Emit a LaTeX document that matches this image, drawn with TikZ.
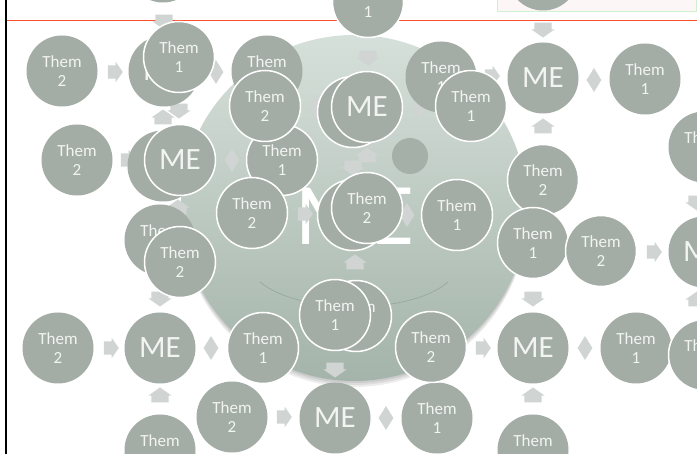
\documentclass[tikz,border=0pt]{standalone}
\usepackage{fontspec}
\setmainfont{Carlito}
\usepackage{xcolor}
\definecolor{nodegray}{RGB}{164,172,166}
\definecolor{arrowgray}{RGB}{208,213,211}
\definecolor{disctop}{RGB}{214,224,218}
\definecolor{discbot}{RGB}{164,180,170}
\definecolor{arcgray}{RGB}{150,166,156}
\definecolor{spotgray}{RGB}{164,176,168}
\definecolor{rulered}{RGB}{250,80,45}
\definecolor{boxgreen}{RGB}{208,240,208}
\definecolor{boxpink}{RGB}{253,246,246}
\definecolor{txtwhite}{RGB}{242,244,242}
\usepackage{tikz}
\usetikzlibrary{shapes.geometric,shapes.arrows}

\tikzset{
  person/.style={circle,fill=nodegray,text=txtwhite,minimum size=71pt,inner sep=0pt,
                 align=center,font=\fontsize{17}{19}\selectfont},
  me/.style={person,font=\fontsize{31}{31}\selectfont},
  ring/.style={draw=white,line width=1.5pt},
  flow/.style={single arrow,fill=arrowgray,inner xsep=0pt,inner ysep=6.5pt,minimum height=15pt,
               single arrow head extend=3.5pt,single arrow tip angle=110},
  vflow/.style={flow,inner xsep=8.5pt,inner ysep=0pt,single arrow head extend=3pt},
  link/.style={diamond,fill=arrowgray,inner sep=0pt,minimum width=15pt,minimum height=24pt}
}

\begin{document}
\begin{tikzpicture}[x=1pt,y=-1pt]
  \useasboundingbox (0,0) rectangle (697,454);
  \clip (0,0) rectangle (697,454);
  \fill[white] (0,0) rectangle (697,454);
  % Slide frame
  \draw[boxgreen,fill=boxpink] (497,-2) rectangle (696,11);
  \draw[rulered,line width=1.3pt] (6,20.5) -- (697,20.5);
  \draw[black,line width=2pt] (6,0) -- (6,454);
  % Big disc behind everything
  \foreach \d in {2,4,6}
    \fill[black,opacity=0.07] (354,{208+\d}) circle (173);
  \shade[top color=disctop,bottom color=discbot] (354,208) circle (173);
  \draw[arcgray,line width=0.6pt] (260,282) .. controls (300,315) and (410,315) .. (448,282);
  \node[circle,fill=spotgray,minimum size=36pt,inner sep=0pt] (spot) at (410,156) {};
  \node[text=white,font=\fontsize{88}{88}\selectfont] (bigme) at (355,216) {ME};
  % Block arrows, right
  \node[flow] (ar1) at (113,72) {};
  \node[flow] (ar2) at (126,160) {};
  \node[flow] (ar3) at (303,214) {};
  \node[flow] (ar4) at (109,348) {};
  \node[flow] (ar5) at (282,417) {};
  \node[flow] (ar6) at (481,348) {};
  \node[flow] (ar7) at (652,252) {};
  \node[flow] (ar8) at (490,76) {};
  % Block arrows, down
  \foreach \x/\y [count=\i] in {164/19,368/55,543/27,179/108,160/296,335/367,533/296,697/200,353/165}
    \node[vflow,shape border rotate=270] (ad\i) at (\x,\y) {};
  % Block arrows, up
  \foreach \x/\y [count=\i] in {163/120,543/129,178/210,160/398,355/265,533/398,697/302,367/158}
    \node[vflow,shape border rotate=90] (au\i) at (\x,\y) {};
  % Diamonds
  \foreach \x/\y [count=\i] in {216/72,316/107,420/107,594/80,232/160,407/215,211/348,386/418,585/348}
    \node[link] (dm\i) at (\x,\y) {};
  % Circles at the back
  \node[person] (topa) at (163,-33) {};
  \node[person] (topb) at (543,-25) {};
  \node[person] (tha) at (62,71) {Them\\2};
  \node[me] (mea) at (164,71) {ME};
  \node[person] (thb) at (267,71) {Them\\1};
  \node[person] (thc) at (441,77) {Them\\1};
  \node[me] (meb) at (543,78) {ME};
  \node[person] (thd) at (645,79) {Them\\1};
  \node[person] (the) at (704,147) {Them\\2};
  \node[person] (thf) at (77,160) {Them\\2};
  \node[person] (backa) at (163,166) {};
  \node[person] (thg) at (160,240) {Them\\2};
  \node[person] (thh) at (58,348) {Them\\2};
  \node[me] (mec) at (160,348) {ME};
  \node[person] (thi) at (160,450) {Them\\2};
  \node[person] (thj) at (232,417) {Them\\2};
  \node[me] (med) at (335,418) {ME};
  \node[person] (thk) at (437,418) {Them\\1};
  \node[me] (mee) at (533,348) {ME};
  \node[person] (thl) at (636,348) {Them\\1};
  \node[person] (thm) at (533,450) {Them\\2};
  \node[me] (mef) at (704,252) {ME};
  % Circles in front, with a white ring
  \node[person,ring] (ra) at (368,2) {Them\\1};
  \node[person,ring] (rb) at (179,57) {Them\\1};
  \node[person,ring] (rc) at (282,160) {Them\\1};
  \node[person,ring] (rd) at (265,106) {Them\\2};
  \node[person,ring] (re) at (353,112) {};
  \node[me,ring] (rf) at (367,107) {ME};
  \node[person,ring] (rg) at (471,106) {Them\\1};
  \node[person,ring] (rh) at (543,180) {Them\\2};
  \node[person,ring] (ri) at (533,243) {Them\\1};
  \node[person,ring] (rj) at (601,251) {Them\\2};
  \node[me,ring] (rk) at (180,160) {ME};
  \node[person,ring] (rl) at (252,213) {Them\\2};
  \node[person,ring] (rm) at (353,215) {};
  \node[person,ring] (rn) at (367,208) {Them\\2};
  \node[person,ring] (ro) at (457,215) {Them\\1};
  \node[person,ring] (rp) at (180,262) {Them\\2};
  \node[person,ring] (rq) at (263,348) {Them\\1};
  \node[person,ring] (rr) at (356,316) {Them\\1};
  \node[person,ring] (rs) at (335,315) {Them\\1};
  \node[person,ring] (rt) at (431,347) {Them\\2};
  \node[person,ring] (ru) at (704,355) {Them\\1};
\end{tikzpicture}
\end{document}
